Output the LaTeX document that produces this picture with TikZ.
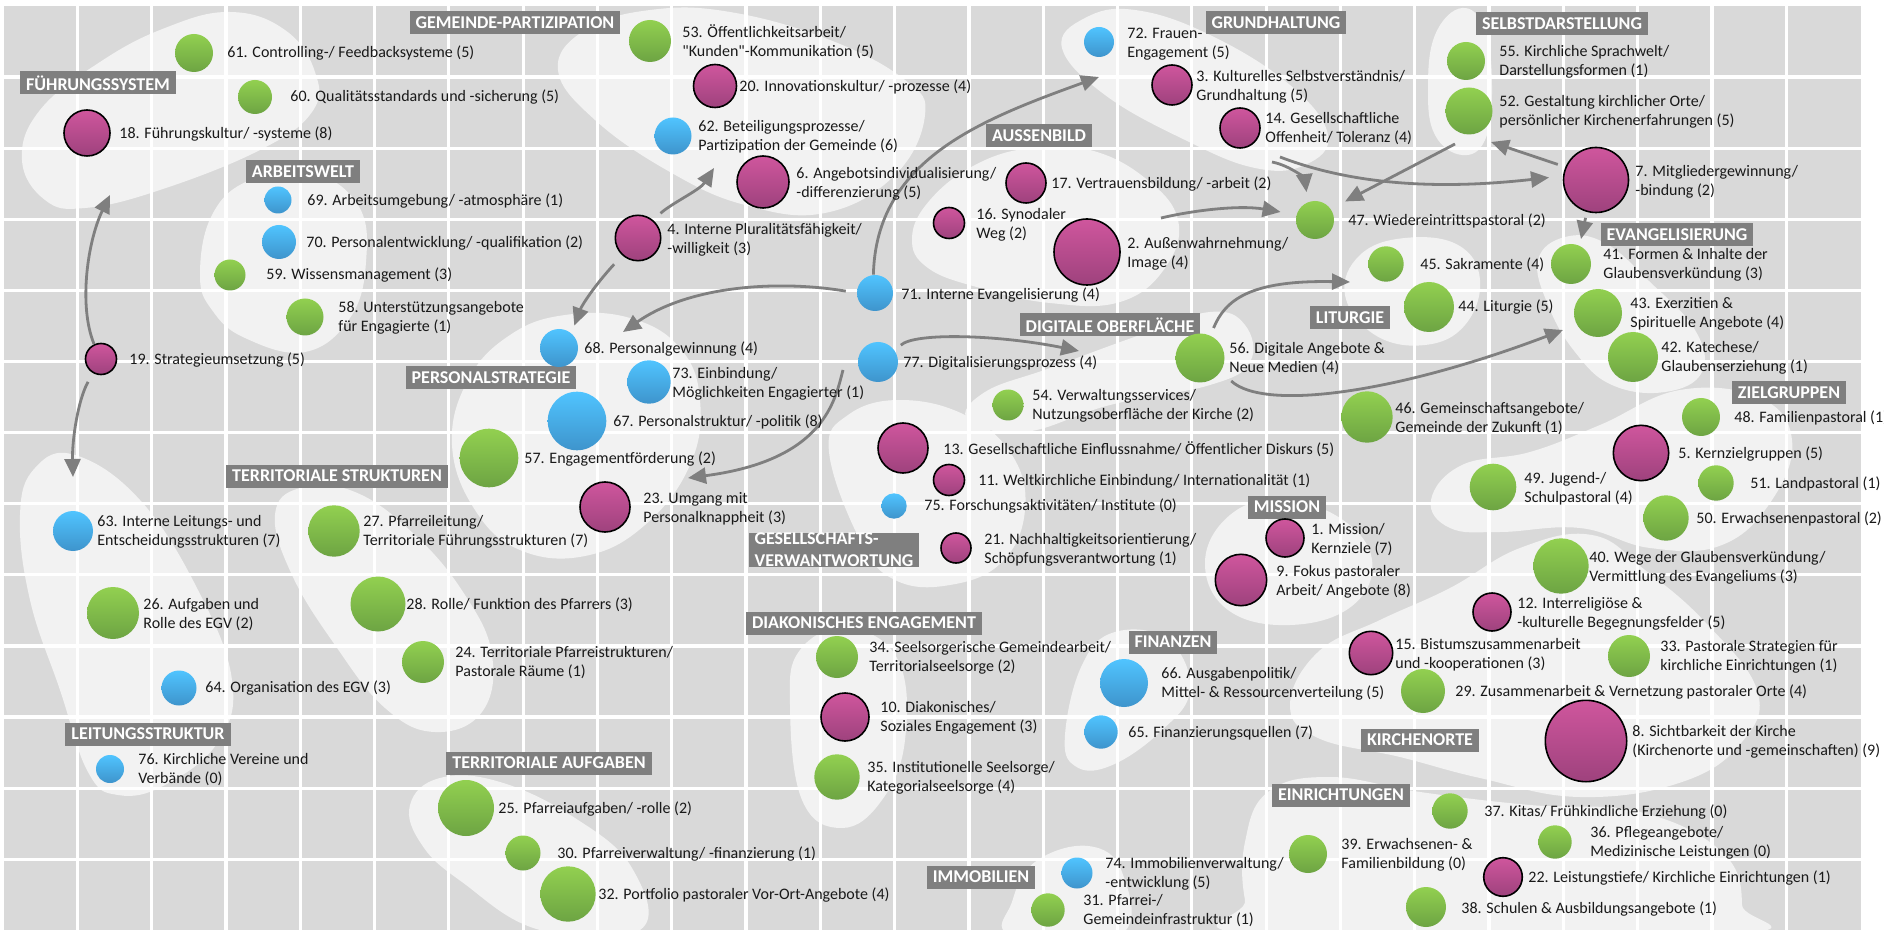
\documentclass[tikz,border=0pt]{standalone}
\usepackage{fontspec}
\setmainfont{Carlito}
\usetikzlibrary{arrows.meta}

\definecolor{cellGray}{HTML}{D9D9D9}
\definecolor{blobGray}{HTML}{F2F2F2}
\definecolor{tagGray}{HTML}{7F7F7F}
\definecolor{arrowGray}{HTML}{7F7F7F}
\definecolor{greenTop}{HTML}{92D050}
\definecolor{greenBot}{HTML}{6DA443}
\definecolor{blueTop}{HTML}{50C4FF}
\definecolor{blueBot}{HTML}{3E94CC}
\definecolor{magTop}{HTML}{CF569D}
\definecolor{magBot}{HTML}{9E427D}

\begin{document}
\begin{tikzpicture}[x=0.5pt,y=-0.5pt,
    gr/.style={
% The shape:
circle, inner sep=0pt, minimum size=#1,
% The fill:
top color=greenTop, bottom color=greenBot,
},
    bl/.style={
circle, inner sep=0pt, minimum size=#1,
top color=blueTop, bottom color=blueBot,
},
    mg/.style={
circle, inner sep=0pt, minimum size=#1,
top color=magTop, bottom color=magBot,
% The border:
draw=black, line width=0.8pt,
},
    txt/.style={anchor=west, align=left, inner sep=0pt, text=black!90,
                font=\fontsize{8}{9.5}\selectfont},
    tag/.style={fill=tagGray, text=white, inner xsep=3pt, inner ysep=0pt,
                minimum height=11.5pt, align=left,
                font=\bfseries\fontsize{9}{11}\selectfont},
    blob/.style={fill=blobGray},
    grid/.style={draw=white, line width=1.6pt},
    flow/.style={draw=arrowGray, line width=1.4pt, -{Triangle[length=9pt,width=8pt]}},
]
\useasboundingbox (0,0) rectangle (1884,930);
\fill[white] (0,0) rectangle (1884,930);
\fill[cellGray] (4,6) rectangle (1861,930);

% blobs
\fill[blob] plot[smooth cycle, tension=0.7] coordinates {(22,160) (45,200) (85,208) (160,190) (260,150) (312,112) (315,72) (285,30) (230,12) (165,28) (100,62) (40,110)};
\fill[blob] plot[smooth cycle, tension=0.7] coordinates {(200,275) (212,215) (250,180) (310,172) (358,205) (366,262) (350,318) (305,352) (245,338) (212,310)};
\fill[blob] plot[smooth cycle, tension=0.7] coordinates {(558,70) (585,30) (650,10) (730,12) (830,40) (905,80) (925,115) (895,175) (825,213) (745,205) (670,172) (595,120)};
\fill[blob] plot[smooth cycle, tension=0.7] coordinates {(1062,48) (1085,18) (1135,10) (1210,35) (1290,85) (1328,135) (1305,165) (1255,168) (1185,140) (1105,95)};
\fill[blob] plot[smooth cycle, tension=0.7] coordinates {(912,238) (930,200) (975,165) (1030,148) (1090,150) (1145,178) (1178,220) (1165,268) (1120,302) (1050,303) (980,288) (928,268)};
\fill[blob] plot[smooth cycle, tension=0.7] coordinates {(1428,90) (1435,35) (1462,8) (1485,30) (1492,90) (1485,140) (1462,155) (1435,135)};
\fill[blob] plot[smooth cycle, tension=0.7] coordinates {(1345,295) (1360,255) (1405,238) (1458,245) (1480,280) (1465,325) (1425,345) (1375,335)};
\fill[blob] plot[smooth cycle, tension=0.7] coordinates {(1538,260) (1565,237) (1605,243) (1650,282) (1695,330) (1702,372) (1665,392) (1612,385) (1575,352) (1548,305)};
\fill[blob] plot[smooth cycle, tension=0.7] coordinates {(968,420) (985,392) (1050,368) (1140,335) (1210,312) (1245,325) (1250,362) (1210,385) (1110,405) (1025,432)};
\fill[blob] plot[smooth cycle, tension=0.7] coordinates {(452,445) (468,380) (510,335) (565,315) (630,318) (680,348) (700,400) (690,465) (645,525) (585,556) (520,550) (475,510)};
\fill[blob] plot[smooth cycle, tension=0.7] coordinates {(275,515) (300,488) (355,492) (415,535) (465,595) (492,655) (482,712) (435,732) (385,708) (335,645) (292,575)};
\fill[blob] plot[smooth cycle, tension=0.7] coordinates {(20,515) (35,468) (75,455) (140,500) (198,590) (232,680) (218,742) (165,785) (118,795) (88,772) (60,690) (30,600)};
\fill[blob] plot[smooth cycle, tension=0.7] coordinates {(410,805) (440,778) (500,782) (575,818) (632,868) (640,930) (540,930) (462,882) (422,845)};
\fill[blob] plot[smooth cycle, tension=0.7] coordinates {(790,705) (800,650) (848,628) (898,660) (905,740) (882,800) (842,828) (802,800)};
\fill[blob] plot[smooth cycle, tension=0.7] coordinates {(1065,735) (1082,665) (1115,632) (1168,640) (1190,690) (1160,732) (1110,766) (1075,766)};
\fill[blob] plot[smooth cycle, tension=0.7] coordinates {(1012,902) (1035,862) (1088,846) (1122,872) (1120,935) (1012,935)};
\fill[blob] plot[smooth cycle, tension=0.7] coordinates {(1205,562) (1230,515) (1280,500) (1340,518) (1372,560) (1352,606) (1290,625) (1228,610)};
\fill[blob] plot[smooth cycle, tension=0.7] coordinates {(829,452) (848,415) (900,400) (965,415) (1012,455) (1025,510) (1002,562) (950,585) (895,580) (860,540)};
\fill[blob] plot[smooth cycle, tension=0.7] coordinates {(1431,500) (1462,465) (1530,452) (1600,425) (1680,390) (1760,398) (1792,440) (1772,500) (1722,545) (1650,548) (1580,528) (1500,532) (1450,528)};
\fill[blob] plot[smooth cycle, tension=0.7] coordinates {(1290,705) (1318,652) (1380,620) (1450,588) (1520,548) (1592,535) (1645,570) (1705,622) (1757,690) (1742,742) (1682,782) (1580,797) (1480,778) (1400,757) (1318,738)};
\fill[blob] plot[smooth cycle, tension=0.7] coordinates {(1245,842) (1268,792) (1330,777) (1420,792) (1530,805) (1640,812) (1722,852) (1742,905) (1725,935) (1262,935) (1245,900)};

% grid
\foreach \c in {1,...,24} {\draw[grid] (3+74.3*\c,6) -- (3+74.3*\c,930);}
\foreach \r in {1,...,12} {\draw[grid] (4,6+71.1*\r) -- (1861,6+71.1*\r);}

% category tags
\node[tag] (tagFS) at (98,83) {FÜHRUNGSSYSTEM};
\node[tag] (tagGP) at (515,23) {GEMEINDE-PARTIZIPATION};
\node[tag] (tagAW) at (303,172) {ARBEITSWELT};
\node[tag] (tagGH) at (1276,23) {GRUNDHALTUNG};
\node[tag] (tagSD) at (1562,24) {SELBSTDARSTELLUNG};
\node[tag] (tagAB) at (1039,136) {AUSSENBILD};
\node[tag] (tagEV) at (1677,235) {EVANGELISIERUNG};
\node[tag] (tagLT) at (1350,318) {LITURGIE};
\node[tag] (tagDO) at (1110,325) {DIGITALE OBERFLÄCHE};
\node[tag] (tagPS) at (491,378) {PERSONALSTRATEGIE};
\node[tag] (tagZG) at (1789,393) {ZIELGRUPPEN};
\node[tag] (tagTS) at (337,476) {TERRITORIALE STRUKTUREN};
\node[tag] (tagMI) at (1287,507) {MISSION};
\node[tag] (tagGV) at (834,550) {GESELLSCHAFTS-\\VERWANTWORTUNG};
\node[tag] (tagDE) at (864,623) {DIAKONISCHES ENGAGEMENT};
\node[tag] (tagFI) at (1173,642) {FINANZEN};
\node[tag] (tagKO) at (1420,740) {KIRCHENORTE};
\node[tag] (tagLS) at (148,734) {LEITUNGSSTRUKTUR};
\node[tag] (tagTA) at (549,763) {TERRITORIALE AUFGABEN};
\node[tag] (tagEI) at (1341,795) {EINRICHTUNGEN};
\node[tag] (tagIM) at (981,877) {IMMOBILIEN};

% arrow ends inside the groups
\coordinate (fsIn) at (110,195);
\coordinate (lsIn) at (73,477);
\coordinate (gpIn) at (714,168);
\coordinate (ghIn) at (1099,77);
\coordinate (psIn) at (623,332);
\coordinate (doIn) at (1079,351);
\coordinate (psIn2) at (688,478);
\coordinate (abOut) at (1161,218);
\coordinate (ghOut) at (1272,162);
\coordinate (ghOut2) at (1280,157);
\coordinate (sdOut) at (1455,144);
\coordinate (sdIn) at (1491,142);
\coordinate (evIn) at (1581,239);
\coordinate (ltIn) at (1350,282);
\coordinate (evIn2) at (1563,330);
\coordinate (o77) at (843,370);

% bubbles
\node[gr=19pt] (n61) at (194,53) {};
\node[gr=17pt] (n60) at (255,97) {};
\node[mg=23pt] (n18) at (87,133) {};
\node[bl=13.5pt] (n69) at (278,200) {};
\node[bl=17pt] (n70) at (279,242) {};
\node[gr=15.5pt] (n59) at (230,275) {};
\node[gr=18.5pt] (n58) at (305,317) {};
\node[mg=15.5pt] (n19) at (101,359) {};
\node[bl=20pt] (n63) at (73,531) {};
\node[gr=25.7pt] (n27) at (334,531) {};
\node[gr=26pt] (n26) at (113,613) {};
\node[gr=27.5pt] (n28) at (378,604) {};
\node[bl=17.5pt] (n64) at (179,688) {};
\node[gr=21pt] (n24) at (423,662) {};
\node[bl=14pt] (n76) at (110,769) {};
\node[gr=28pt] (n25) at (466,808) {};
\node[gr=17.5pt] (n30) at (523,853) {};
\node[gr=27.7pt] (n32) at (568,894) {};
\node[gr=21pt] (n53) at (650,41) {};
\node[mg=21.5pt] (n20) at (715,86) {};
\node[bl=18.5pt] (n62) at (673,136) {};
\node[mg=26pt] (n6) at (763,182) {};
\node[mg=22.7pt] (n4) at (638,238) {};
\node[bl=18pt] (n71) at (875,293) {};
\node[bl=15pt] (n72) at (1099,42) {};
\node[mg=20pt] (n3) at (1172,85) {};
\node[mg=20pt] (n14) at (1240,128) {};
\node[mg=20pt] (n17) at (1026,183) {};
\node[mg=15.5pt] (n16) at (949,223) {};
\node[mg=33pt] (n2) at (1087,252) {};
\node[gr=19pt] (n47) at (1315,220) {};
\node[gr=19pt] (n55) at (1466,61) {};
\node[gr=23.5pt] (n52) at (1469,111) {};
\node[mg=32.5pt] (n7) at (1596,180) {};
\node[gr=20pt] (n41) at (1571,264) {};
\node[gr=17.7pt] (n45) at (1386,264) {};
\node[gr=25pt] (n44) at (1429,307) {};
\node[gr=24pt] (n43) at (1598,313) {};
\node[gr=25pt] (n42) at (1633,357) {};
\node[gr=24.5pt] (n56) at (1200,358) {};
\node[gr=15.5pt] (n54) at (1008,405) {};
\node[gr=25.7pt] (n46) at (1367,417) {};
\node[bl=20pt] (n77) at (878,362) {};
\node[bl=19pt] (n68) at (559,348) {};
\node[bl=21.7pt] (n73) at (649,382) {};
\node[bl=29.3pt] (n67) at (577,421) {};
\node[gr=29.3pt] (n57) at (489,458) {};
\node[mg=25pt] (n23) at (605,507) {};
\node[mg=25pt] (n13) at (903,448) {};
\node[mg=15.5pt] (n11) at (949,480) {};
\node[bl=12.7pt] (n75) at (894,506) {};
\node[mg=15pt] (n21) at (956,548) {};
\node[mg=19pt] (n1) at (1285,538) {};
\node[mg=25.7pt] (n9) at (1241,580) {};
\node[gr=19pt] (n48) at (1701,417) {};
\node[mg=27.7pt] (n5) at (1641,453) {};
\node[gr=17.7pt] (n51) at (1716,483) {};
\node[gr=23.3pt] (n49) at (1493,487) {};
\node[gr=22.7pt] (n50) at (1666,518) {};
\node[gr=27.7pt] (n40) at (1561,566) {};
\node[mg=19pt] (n12) at (1492,612) {};
\node[mg=21.7pt] (n15) at (1371,653) {};
\node[gr=21pt] (n33) at (1629,656) {};
\node[gr=22pt] (n29) at (1423,691) {};
\node[mg=40.7pt] (n8) at (1586,741) {};
\node[bl=24pt] (n66) at (1124,683) {};
\node[bl=16.7pt] (n65) at (1101,732) {};
\node[gr=17.7pt] (n37) at (1450,811) {};
\node[gr=16.7pt] (n36) at (1555,842) {};
\node[gr=19pt] (n39) at (1308,854) {};
\node[mg=19.3pt] (n22) at (1503,877) {};
\node[gr=20pt] (n38) at (1426,907) {};
\node[bl=15.5pt] (n74) at (1077,873) {};
\node[gr=16.7pt] (n31) at (1048,910) {};
\node[gr=21pt] (n34) at (837,657) {};
\node[mg=24pt] (n10) at (845,717) {};
\node[gr=22.7pt] (n35) at (837,777) {};

% connectors
\draw[flow] (n19.115) .. controls (78,305) and (88,240) .. (fsIn);
\draw[flow, shorten <=5pt] (n19.240) .. controls (78,400) and (72,440) .. (lsIn);
\draw[flow, shorten <=5pt] (n4.50) .. controls (672,203) and (700,190) .. (gpIn);
\draw[flow, shorten <=6pt, shorten >=4pt] (n4.228) .. controls (595,285) and (582,305) .. (n68.50);
\draw[flow] (n71.95) .. controls (876,160) and (980,120) .. (ghIn);
\draw[flow, shorten <=5.5pt] (n71.west) .. controls (780,280) and (690,285) .. (psIn);
\draw[flow, shorten <=4pt] (n77.34) .. controls (915,332) and (1000,335) .. (doIn);
\draw[flow] (o77) .. controls (835,400) and (825,460) .. (psIn2);
\draw[flow, shorten >=8pt] (abOut) .. controls (1195,210) and (1240,205) .. (n47.164);
\draw[flow, shorten >=5pt] (ghOut) .. controls (1292,166) and (1305,180) .. (n47.112);
\draw[flow, shorten >=7pt] (ghOut2) .. controls (1340,180) and (1420,192) .. (n7.173);
\draw[flow, shorten >=8pt] (sdOut) -- (n47.35);
\draw[flow, shorten <=4pt] (n7.157) -- (sdIn);
\draw[flow, shorten <=3pt] (n7.254) -- (evIn);
\draw[flow, shorten <=4pt] (n56.65) .. controls (1225,300) and (1250,280) .. (ltIn);
\draw[flow, shorten <=7pt] (n56.-33) .. controls (1265,412) and (1400,392) .. (evIn2);

% labels
\node[txt] (t61) at (227,53) {61. Controlling-/ Feedbacksysteme (5)};
\node[txt] (t60) at (290,97) {60. Qualitätsstandards und -sicherung (5)};
\node[txt] (t18) at (119,134) {18. Führungskultur/ -systeme (8)};
\node[txt] (t69) at (307,201) {69. Arbeitsumgebung/ -atmosphäre (1)};
\node[txt] (t70) at (306,243) {70. Personalentwicklung/ -qualifikation (2)};
\node[txt] (t59) at (266,275) {59. Wissensmanagement (3)};
\node[txt] (t58) at (338,318) {58. Unterstützungsangebote\\für Engagierte (1)};
\node[txt] (t19) at (129,360) {19. Strategieumsetzung (5)};
\node[txt] (t63) at (97,532) {63. Interne Leitungs- und\\Entscheidungsstrukturen (7)};
\node[txt] (t27) at (363,532) {27. Pfarreileitung/\\Territoriale Führungsstrukturen (7)};
\node[txt] (t26) at (143,615) {26. Aufgaben und\\Rolle des EGV (2)};
\node[txt] (t28) at (406,605) {28. Rolle/ Funktion des Pfarrers (3)};
\node[txt] (t64) at (205,688) {64. Organisation des EGV (3)};
\node[txt] (t24) at (455,663) {24. Territoriale Pfarreistrukturen/\\Pastorale Räume (1)};
\node[txt] (t76) at (138,770) {76. Kirchliche Vereine und\\Verbände (0)};
\node[txt] (t25) at (498,809) {25. Pfarreiaufgaben/ -rolle (2)};
\node[txt] (t30) at (557,854) {30. Pfarreiverwaltung/ -finanzierung (1)};
\node[txt] (t32) at (598,895) {32. Portfolio pastoraler Vor-Ort-Angebote (4)};
\node[txt] (t53) at (682,42) {53. Öffentlichkeitsarbeit/\\\textquotedbl Kunden\textquotedbl-Kommunikation (5)};
\node[txt] (t20) at (739,87) {20. Innovationskultur/ -prozesse (4)};
\node[txt] (t62) at (698,137) {62. Beteiligungsprozesse/\\Partizipation der Gemeinde (6)};
\node[txt] (t6) at (796,184) {6. Angebotsindividualisierung/\\-differenzierung (5)};
\node[txt] (t4) at (667,240) {4. Interne Pluralitätsfähigkeit/\\-willigkeit (3)};
\node[txt] (t71) at (901,295) {71. Interne Evangelisierung (4)};
\node[txt] (t72) at (1127,44) {72. Frauen-\\Engagement (5)};
\node[txt] (t3) at (1196,87) {3. Kulturelles Selbstverständnis/\\Grundhaltung (5)};
\node[txt] (t14) at (1265,129) {14. Gesellschaftliche\\Offenheit/ Toleranz (4)};
\node[txt] (t17) at (1051,184) {17. Vertrauensbildung/ -arbeit (2)};
\node[txt] (t16) at (976,225) {16. Synodaler\\Weg (2)};
\node[txt] (t2) at (1127,254) {2. Außenwahrnehmung/\\Image (4)};
\node[txt] (t47) at (1348,221) {47. Wiedereintrittspastoral (2)};
\node[txt] (t55) at (1499,62) {55. Kirchliche Sprachwelt/\\Darstellungsformen (1)};
\node[txt] (t52) at (1499,112) {52. Gestaltung kirchlicher Orte/\\persönlicher Kirchenerfahrungen (5)};
\node[txt] (t7) at (1635,182) {7. Mitgliedergewinnung/\\-bindung (2)};
\node[txt] (t41) at (1603,265) {41. Formen \& Inhalte der\\Glaubensverkündung (3)};
\node[txt] (t45) at (1420,265) {45. Sakramente (4)};
\node[txt] (t44) at (1458,307) {44. Liturgie (5)};
\node[txt] (t43) at (1630,314) {43. Exerzitien \&\\Spirituelle Angebote (4)};
\node[txt] (t42) at (1661,358) {42. Katechese/\\Glaubenserziehung (1)};
\node[txt] (t56) at (1229,359) {56. Digitale Angebote \&\\Neue Medien (4)};
\node[txt] (t54) at (1032,406) {54. Verwaltungsservices/\\Nutzungsoberfläche der Kirche (2)};
\node[txt] (t46) at (1395,419) {46. Gemeinschaftsangebote/\\Gemeinde der Zukunft (1)};
\node[txt] (t77) at (903,363) {77. Digitalisierungsprozess (4)};
\node[txt] (t68) at (584,349) {68. Personalgewinnung (4)};
\node[txt] (t73) at (672,384) {73. Einbindung/\\Möglichkeiten Engagierter (1)};
\node[txt] (t67) at (613,422) {67. Personalstruktur/ -politik (8)};
\node[txt] (t57) at (524,459) {57. Engagementförderung (2)};
\node[txt] (t23) at (643,509) {23. Umgang mit\\Personalknappheit (3)};
\node[txt] (t13) at (943,449) {13. Gesellschaftliche Einflussnahme/ Öffentlicher Diskurs (5)};
\node[txt] (t11) at (978,481) {11. Weltkirchliche Einbindung/ Internationalität (1)};
\node[txt] (t75) at (924,506) {75. Forschungsaktivitäten/ Institute (0)};
\node[txt] (t21) at (984,550) {21. Nachhaltigkeitsorientierung/\\Schöpfungsverantwortung (1)};
\node[txt] (t1) at (1311,540) {1. Mission/\\Kernziele (7)};
\node[txt] (t9) at (1276,582) {9. Fokus pastoraler\\Arbeit/ Angebote (8)};
\node[txt] (t48) at (1734,418) {48. Familienpastoral (1)};
\node[txt] (t5) at (1678,454) {5. Kernzielgruppen (5)};
\node[txt] (t51) at (1750,484) {51. Landpastoral (1)};
\node[txt] (t49) at (1524,489) {49. Jugend-/\\Schulpastoral (4)};
\node[txt] (t50) at (1696,519) {50. Erwachsenenpastoral (2)};
\node[txt] (t40) at (1589,568) {40. Wege der Glaubensverkündung/\\Vermittlung des Evangeliums (3)};
\node[txt] (t12) at (1517,614) {12. Interreligiöse \&\\-kulturelle Begegnungsfelder (5)};
\node[txt] (t15) at (1395,655) {15. Bistumszusammenarbeit\\und -kooperationen (3)};
\node[txt] (t33) at (1660,657) {33. Pastorale Strategien für\\kirchliche Einrichtungen (1)};
\node[txt] (t29) at (1455,692) {29. Zusammenarbeit \& Vernetzung pastoraler Orte (4)};
\node[txt] (t8) at (1632,742) {8. Sichtbarkeit der Kirche\\(Kirchenorte und -gemeinschaften) (9)};
\node[txt] (t66) at (1161,684) {66. Ausgabenpolitik/\\Mittel- \& Ressourcenverteilung (5)};
\node[txt] (t65) at (1128,733) {65. Finanzierungsquellen (7)};
\node[txt] (t37) at (1484,812) {37. Kitas/ Frühkindliche Erziehung (0)};
\node[txt] (t36) at (1590,843) {36. Pflegeangebote/\\Medizinische Leistungen (0)};
\node[txt] (t39) at (1341,855) {39. Erwachsenen- \&\\Familienbildung (0)};
\node[txt] (t22) at (1528,878) {22. Leistungstiefe/ Kirchliche Einrichtungen (1)};
\node[txt] (t38) at (1461,909) {38. Schulen \& Ausbildungsangebote (1)};
\node[txt] (t74) at (1105,874) {74. Immobilienverwaltung/\\ -entwicklung (5)};
\node[txt] (t31) at (1083,911) {31. Pfarrei-/\\Gemeindeinfrastruktur (1)};
\node[txt] (t34) at (869,658) {34. Seelsorgerische Gemeindearbeit/\\Territorialseelsorge (2)};
\node[txt] (t10) at (880,718) {10. Diakonisches/\\Soziales Engagement (3)};
\node[txt] (t35) at (867,778) {35. Institutionelle Seelsorge/\\Kategorialseelsorge (4)};

\end{tikzpicture}
\end{document}
